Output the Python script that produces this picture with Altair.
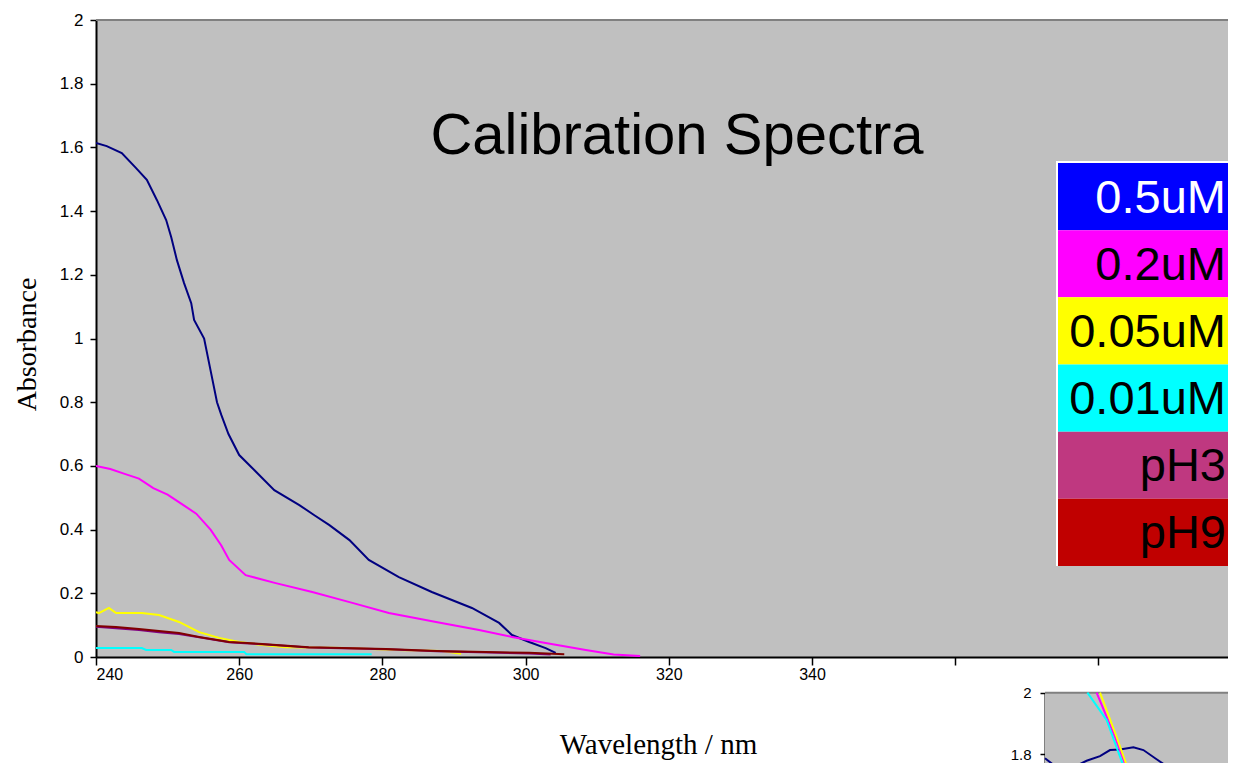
import altair as alt
import pandas as pd

# ---- main spectra ----
wl_05 = [240, 241.5, 243.6, 245.6, 247.1, 248.5, 249.8, 250.5, 251.3, 252.3, 253.3, 253.7,
         255.1, 256.0, 256.9, 257.5, 258.5, 260, 262.1, 264.9, 268.4, 270.5, 272.6, 275.4,
         278.1, 282.3, 286.9, 292.5, 296.3, 298.1, 300.5, 302.8, 304.2]
ab_05 = [1.614, 1.604, 1.582, 1.535, 1.498, 1.435, 1.372, 1.319, 1.246, 1.174, 1.111, 1.058,
         1.0, 0.9, 0.80, 0.76, 0.70, 0.634, 0.587, 0.524, 0.477, 0.445, 0.414, 0.367,
         0.305, 0.251, 0.204, 0.154, 0.107, 0.069, 0.047, 0.028, 0.013]

wl_02 = [240, 242, 244, 246, 248, 250, 252, 254, 256, 257.5, 258.6, 260.9, 265.1, 270.2,
         275.8, 280.9, 287.5, 293.5, 298.1, 302.8, 308.4, 312.3, 316]
ab_02 = [0.60, 0.59, 0.575, 0.56, 0.53, 0.51, 0.48, 0.45, 0.40, 0.35, 0.305, 0.257, 0.232,
         0.204, 0.170, 0.138, 0.110, 0.085, 0.063, 0.044, 0.022, 0.008, 0.003]

wl_005 = [240, 240.4, 241.8, 242.8, 246.4, 248.8, 251.6, 254.4, 257.2, 260, 263.2, 266.5,
          274.9, 281.9, 288.3, 291]
ab_005 = [0.141, 0.138, 0.154, 0.138, 0.138, 0.132, 0.110, 0.078, 0.060, 0.047, 0.038, 0.031,
          0.028, 0.022, 0.019, 0.010]

wl_001 = [240, 246.4, 247, 250.5, 250.9, 260.7, 261, 278.5]
ab_001 = [0.028, 0.028, 0.022, 0.022, 0.016, 0.016, 0.009, 0.009]

wl_ph3 = [240, 242.8, 246, 248.8, 251.6, 254.4, 258.6, 263.2, 269.7, 280.5, 287.6, 300.5, 303.5]
ab_ph3 = [0.095, 0.090, 0.085, 0.078, 0.072, 0.062, 0.046, 0.040, 0.030, 0.024, 0.018, 0.011, 0.008]

wl_ph9 = [240, 242.8, 246, 248.8, 251.6, 254.4, 258.6, 263.2, 269.7, 280.5, 287.6, 300.5, 305.4]
ab_ph9 = [0.097, 0.094, 0.088, 0.082, 0.075, 0.063, 0.047, 0.041, 0.031, 0.025, 0.019, 0.013, 0.009]

# ---- partly visible inset chart (bottom right), estimated ----
inset_wl_05 = [200, 205.8, 214.2, 220.8, 227.5, 232.5, 237.5, 244.2, 249.2, 255.8, 262.5, 265.8]
inset_ab_05 = [1.786, 1.757, 1.757, 1.778, 1.793, 1.813, 1.815, 1.822, 1.813, 1.783, 1.753, 1.738]
inset_wl_02 = [225.8, 235.0, 241.7]
inset_ab_02 = [2.0, 1.856, 1.738]
inset_wl_005 = [227.5, 235.8, 242.2]
inset_ab_005 = [2.0, 1.856, 1.738]
inset_wl_001 = [221.2, 230.8, 240.5]
inset_ab_001 = [2.0, 1.911, 1.738]
inset_ticks = [1.8, 2.0]

series_names = ["0.5uM", "0.2uM", "0.05uM", "0.01uM", "pH3", "pH9"]
line_colors = ["#000080", "#FF00FF", "#FFFF00", "#00FFFF", "#800080", "#800000"]
legend_fill = ["#0000FF", "#FF00FF", "#FFFF00", "#00FFFF", "#BF3880", "#C00000"]
legend_text = ["#FFFFFF", "#000000", "#000000", "#000000", "#000000", "#000000"]

x_ticks = [240, 260, 280, 300, 320, 340, 360, 380]
y_ticks = [0, 0.2, 0.4, 0.6, 0.8, 1.0, 1.2, 1.4, 1.6, 1.8, 2.0]

all_wl = [wl_05, wl_02, wl_005, wl_001, wl_ph3, wl_ph9]
all_ab = [ab_05, ab_02, ab_005, ab_001, ab_ph3, ab_ph9]

rows = []
for i, (name, wls, abs_) in enumerate(zip(series_names, all_wl, all_ab)):
    for k, (w, a) in enumerate(zip(wls, abs_)):
        rows.append({"series": name, "order": i, "idx": k, "wl": w, "ab": a})
df = pd.DataFrame(rows)

inset_names = ["0.5uM", "0.2uM", "0.05uM", "0.01uM"]
inset_rows = []
for name, wls, abs_ in zip(inset_names,
                           [inset_wl_05, inset_wl_02, inset_wl_005, inset_wl_001],
                           [inset_ab_05, inset_ab_02, inset_ab_005, inset_ab_001]):
    for k, (w, a) in enumerate(zip(wls, abs_)):
        inset_rows.append({"series": name, "idx": k, "iwl": w, "iab": a})
dfi = pd.DataFrame(inset_rows)

leg = pd.DataFrame({"label": series_names, "fill": legend_fill, "tc": legend_text})

W, H = 1132, 637

lines = alt.Chart(df).mark_line(strokeWidth=2, clip=True).encode(
    x=alt.X("wl:Q",
            scale=alt.Scale(domain=[240, 398.1], nice=False, zero=False),
            axis=alt.Axis(values=x_ticks, title="Wavelength / nm", grid=False,
                          labelExpr="datum.value <= 340 ? datum.value : ''",
                          labelFont="Liberation Sans", labelFontSize=16, labelColor="#000000",
                          labelPadding=1, tickSize=8, tickWidth=1.5, tickColor="#000000",
                          domainColor="#000000", domainWidth=2,
                          titleFont="Liberation Serif", titleFontSize=29,
                          titleFontWeight="normal", titleColor="#000000",
                          titleX=562, titleY=87, titleBaseline="middle", titleAlign="center")),
    y=alt.Y("ab:Q",
            scale=alt.Scale(domain=[0, 2], nice=False),
            axis=alt.Axis(values=y_ticks, format="~g", title="Absorbance", grid=False,
                          labelFont="Liberation Sans", labelFontSize=17, labelColor="#000000",
                          labelPadding=7, tickSize=6, tickWidth=1.5, tickColor="#000000",
                          domainColor="#000000", domainWidth=2,
                          titleFont="Liberation Serif", titleFontSize=28,
                          titleFontWeight="normal", titleColor="#000000",
                          titleX=-69, titleY=324, titleAngle=270,
                          titleBaseline="middle", titleAlign="center")),
    color=alt.Color("series:N", scale=alt.Scale(domain=series_names, range=line_colors),
                    legend=None),
    order=alt.Order("idx:Q"),
    detail="series:N",
)

top_border = alt.Chart(leg).mark_rule(color="#808080", strokeWidth=2).encode(
    x=alt.value(0), x2=alt.value(W), y=alt.value(0)
).transform_filter("datum.label == '0.5uM'")

legend_border = alt.Chart(leg).mark_rect(color="#FFFFFF").encode(
    x=alt.value(960), x2=alt.value(W), y=alt.value(141), y2=alt.value(546)
).transform_filter("datum.label == '0.5uM'")

legend_boxes = alt.Chart(leg).mark_rect().encode(
    x=alt.value(962), x2=alt.value(W),
    y=alt.Y("label:N", scale=alt.Scale(domain=series_names, range=[143, 546],
                                       paddingInner=0, paddingOuter=0), axis=None),
    fill=alt.Fill("fill:N", scale=None),
)

legend_labels = alt.Chart(leg).mark_text(
    align="right", baseline="middle", dy=2,
    font="Liberation Sans", fontSize=47
).encode(
    x=alt.value(1130),
    y=alt.Y("label:N", bandPosition=0.5,
            scale=alt.Scale(domain=series_names, range=[143, 546],
                            paddingInner=0, paddingOuter=0), axis=None),
    text="label:N",
    color=alt.Color("tc:N", scale=None),
)

legend_layer = alt.layer(legend_border, legend_boxes, legend_labels)

# inset chart (partly visible at the bottom right)
inset_bg = alt.Chart(leg).mark_rect(color="#C0C0C0").encode(
    x=alt.value(949), x2=alt.value(W), y=alt.value(672.7), y2=alt.value(770)
).transform_filter("datum.label == '0.5uM'")

inset_top = alt.Chart(leg).mark_rule(color="#808080", strokeWidth=2).encode(
    x=alt.value(949), x2=alt.value(W), y=alt.value(672.7)
).transform_filter("datum.label == '0.5uM'")

inset_lines = alt.Chart(dfi).mark_line(strokeWidth=2).encode(
    x=alt.X("iwl:Q", scale=alt.Scale(domain=[200, 291.5], range=[949, W], nice=False, zero=False),
            axis=None),
    y=alt.Y("iab:Q", scale=alt.Scale(domain=[1.7, 2.0], range=[764.7, 672.7], nice=False, zero=False),
            axis=alt.Axis(orient="left", offset=-949, values=inset_ticks, format="~g",
                          title=None, grid=False,
                          labelFont="Liberation Sans", labelFontSize=15, labelColor="#000000",
                          labelPadding=9, tickSize=5, tickWidth=1.5, tickColor="#000000",
                          domainColor="#000000", domainWidth=2)),
    color=alt.Color("series:N", scale=alt.Scale(domain=inset_names, range=line_colors[:4]),
                    legend=None),
    order=alt.Order("idx:Q"),
    detail="series:N",
)

inset_layer = alt.layer(inset_bg, inset_top, inset_lines)

chart = alt.layer(lines, top_border, legend_layer, inset_layer).resolve_scale(
    x="independent", y="independent", color="independent"
).properties(
    width=W, height=H,
    autosize=alt.AutoSizeParams(type="none"),
    padding={"left": 88, "top": 12, "right": 0, "bottom": 106},
    background="#FFFFFF",
    title=alt.TitleParams("Calibration Spectra", font="Liberation Sans", fontSize=58,
                          fontWeight="normal", color="#000000", anchor="middle",
                          frame="group", baseline="alphabetic", offset=-201, dx=15),
).configure_view(fill="#C0C0C0", stroke=None)

chart.save("out.html", embed_options={"renderer": "svg", "actions": False})
